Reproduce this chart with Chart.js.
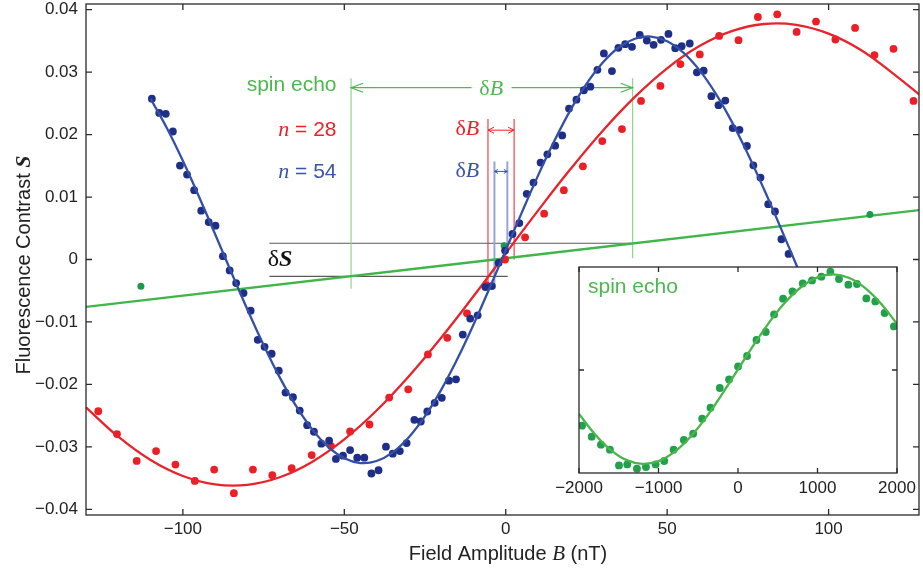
<!DOCTYPE html>
<html><head><meta charset="utf-8">
<script src="https://cdn.jsdelivr.net/npm/chart.js@4.4.1/dist/chart.umd.min.js"></script>
<style>
html,body{margin:0;padding:0;background:#fff;width:923px;height:571px;overflow:hidden}
#main{position:absolute;left:0;top:0}
#inset{position:absolute;left:540px;top:262px}
</style></head><body>
<canvas id="main" width="923" height="571"></canvas>
<canvas id="inset" width="380" height="240"></canvas>
<script>
// ---------- data ----------
const blueB = [-109.6,-107.3,-105.3,-103.1,-100.9,-98.7,-96.5,-94.3,-92.0,-89.9,-87.6,-85.5,
 -83.5,-81.2,-79.0,-76.8,-74.7,-72.5,-70.3,-68.2,-65.9,-63.8,-61.5,-59.4,
 -57.1,-54.7,-52.6,-50.4,-48.2,-46.0,-43.8,-41.6,-39.4,-37.1,-35.0,-32.8,
 -30.7,-28.3,-26.3,-24.3,-22.0,-19.8,-17.6,-15.4,-13.3,-11.0,-8.7,-6.3,
 -4.3,-2.2,-0.2,2.1,4.2,6.5,8.6,10.8,12.9,15.3,17.5,19.6,
 21.9,24.2,26.2,28.4,30.4,32.9,34.9,37.0,39.1,41.5,43.7,45.8,
 48.1,50.4,52.5,54.5,57.0,59.2,61.3,63.7,65.9,68.0,70.3,72.4,
 74.7,76.7,78.9,81.3,83.4,85.4,87.6];
const blueS = [0.02575,0.02347,0.02332,0.02049,0.01503,0.01359,0.01109,0.00781,0.00599,0.00542,0.00053,-0.00175,
 -0.00378,-0.00537,-0.00819,-0.01286,-0.01398,-0.01509,-0.01780,-0.02131,-0.02205,-0.02418,-0.02652,-0.02757,
 -0.02949,-0.02901,-0.03193,-0.03140,-0.03050,-0.03172,-0.03172,-0.03426,-0.03374,-0.02996,-0.03108,-0.03066,
 -0.02938,-0.02566,-0.02593,-0.02433,-0.02295,-0.02215,-0.01939,-0.01918,-0.01202,-0.00946,-0.00893,-0.00441,
 -0.00425,-0.00054,0.00143,0.00408,0.00583,0.01052,0.01232,0.01551,0.01683,0.01822,0.01986,0.02416,
 0.02559,0.02709,0.02766,0.03037,0.03299,0.03017,0.03388,0.03447,0.03404,0.03595,0.03506,0.03436,
 0.03516,0.03611,0.03383,0.03415,0.03458,0.02996,0.03022,0.02614,0.02470,0.02544,0.02104,0.02076,
 0.01817,0.01508,0.01312,0.00886,0.00770,0.00324,0.00089];

const redB = [-126.2,-120.4,-114.3,-108.3,-102.3,-96.3,-90.3,-84.2,-78.3,-72.3,-66.3,-60.1,
 -54.1,-48.2,-42.2,-36.1,-30.2,-24.1,-18.1,-12.0,-6.0,-0.2,
 6.0,11.9,18.0,23.9,29.9,36.0,41.9,47.9,54.1,60.1,66.1,72.1,78.1,84.1,90.1,96.1,102.1,108.2,114.2,120.1,126.3];
const redS = [-0.02429,-0.02795,-0.03225,-0.03066,-0.03283,-0.03544,-0.03363,-0.03740,-0.03363,-0.03453,-0.03342,-0.03130,
 -0.02986,-0.02752,-0.02641,-0.02210,-0.02078,-0.01520,-0.01254,-0.00861,-0.00410,0.0,
 0.00355,0.00733,0.01109,0.01492,0.01896,0.02088,0.02539,0.02778,0.03128,0.03283,0.03579,0.03511,0.03882,0.03925,0.03643,0.03809,0.03522,0.03707,0.03272,0.03372,0.02539];

const greenB = [-113.0,-0.5,112.8];
const greenS = [-0.0043,0.0022,0.0072];

// fitted curves
const redFitB = [-130,-120,-110,-100,-90,-80,-70,-60,-50,-40,-30,-20,-10,0,10,20,30,40,50,60,70,80,90,100,110,120,130];
const redFitS = [-0.02367,-0.02837,-0.03210,-0.03466,-0.03601,-0.03607,-0.03486,-0.03240,-0.02880,-0.02418,-0.01869,-0.01252,-0.00589,
 0.00097,0.00783,0.01444,0.02058,0.02603,0.03061,0.03416,0.03655,0.03770,0.03757,0.03616,0.03354,0.02976,0.02560];
const blueFitB = [-110,-105,-100,-95,-90,-85,-80,-75,-70,-65,-60,-55,-50,-45,-40,-35,-30,-25,-20,-15,-10,-5,
 0,5,10,15,20,25,30,35,40,45,50,55,60,65,70,75,80,85,90,95,100];
const blueFitS = [0.02574,0.02108,0.01579,0.01005,0.00405,-0.00204,-0.00801,-0.01368,-0.01887,-0.02340,-0.02715,-0.02998,
 -0.03181,-0.03258,-0.03226,-0.03087,-0.02845,-0.02508,-0.02086,-0.01593,-0.01044,-0.00457,
 0.00149,0.00755,0.01343,0.01892,0.02387,0.02810,0.03149,0.03393,0.03534,0.03568,0.03494,0.03313,0.03032,0.02660,0.02207,0.01689,0.01124,0.00526,-0.00083,-0.00683,-0.01258];
const greenFitB = [-130,0,128];
const greenFitS = [-0.0076,0.0002,0.0079];

const xTicks = [-100,-50,0,50,100];
const xTickLabels = ['\u2212100','\u221250','0','50','100'];
const yTicks = [-0.04,-0.03,-0.02,-0.01,0,0.01,0.02,0.03,0.04];
const yTickLabels = ['\u22120.04','\u22120.03','\u22120.02','\u22120.01','0','0.01','0.02','0.03','0.04'];

// inset (spin echo)
const insetB = [-1962,-1840,-1724,-1611,-1497,-1393,-1271,-1158,-1036,-928,-810,-681,-564,-451,-346,-229,-112,
 1,114,232,349,454,567,685,814,931,1049,1162,1270,1388,1496,1614,1727,1844,1961];
const insetS = [-0.02704,-0.03238,-0.03626,-0.03869,-0.04631,-0.04583,-0.04791,-0.04709,-0.04583,-0.04417,-0.03869,-0.03398,-0.03092,-0.02364,-0.01830,-0.00874,-0.00456,
 0.00175,0.00680,0.01456,0.01845,0.02699,0.03461,0.03816,0.04204,0.04350,0.04529,0.04772,0.04417,0.04141,0.04175,0.03476,0.03330,0.02767,0.02117];
const insetFitB = [-2000,-1800,-1600,-1400,-1200,-1000,-800,-600,-400,-200,0,200,400,600,800,1000,1200,1400,1600,1800,2000];
const insetFitS = [-0.02134,-0.03122,-0.03885,-0.04376,-0.04559,-0.04423,-0.03975,-0.03248,-0.02293,-0.01174,0.00028,
 0.01231,0.02351,0.03311,0.04042,0.04496,0.04640,0.04463,0.03978,0.03220,0.02235];
const insetXTicks = [-2000,-1000,0,1000,2000];
const insetXTickLabels = ['\u22122000','\u22121000','0','1000','2000'];
const insetYTicks = [0];

// annotation values (field / contrast units)
const deltaSUpper = 0.0026, deltaSLower = -0.0027;
const dBGreen = [-47.9, 39.3], dBRed = [-5.5, 2.6], dBBlue = [-3.5, 0.5];

// ---------- styles ----------
const SANS = "'Liberation Sans', Arial, sans-serif";
const SERIF = "'Liberation Serif', 'Times New Roman', serif";
const C = {
  red:'#ec1f27', redLine:'#e8232b', blue:'#1f2f88', blueLine:'#3450a5', blueText:'#3a55a6',
  green:'#4cb84e', greenLine:'#40b54a', greenPt:'#1d9a49', greenV:'#90d590', blueV:'#96a4d8',
  axis:'#2a2a2a', text:'#222'
};
const pts = (xs,ys)=>xs.map((x,i)=>({x:x,y:ys[i]}));

function seg(ctx,x1,y1,x2,y2,color,w){ctx.save();ctx.strokeStyle=color;ctx.lineWidth=w;ctx.beginPath();ctx.moveTo(x1,y1);ctx.lineTo(x2,y2);ctx.stroke();ctx.restore();}
function head(ctx,x,y,dir,len,half,color,w){ctx.save();ctx.strokeStyle=color;ctx.lineWidth=w;ctx.beginPath();ctx.moveTo(x-dir*len,y-half);ctx.lineTo(x,y);ctx.lineTo(x-dir*len,y+half);ctx.stroke();ctx.restore();}
function rich(ctx,parts,x,y,align){
  let w=0; parts.forEach(p=>{ctx.font=p.f;p.w=ctx.measureText(p.t).width;w+=p.w;});
  let cx = align==='right'? x-w : (align==='center'? x-w/2 : x);
  ctx.save();ctx.textBaseline='alphabetic';ctx.textAlign='left';
  parts.forEach(p=>{ctx.font=p.f;ctx.fillStyle=p.c;ctx.fillText(p.t,cx,y);cx+=p.w;});
  ctx.restore(); return w;
}

const annotations = {
  id:'annotations',
  beforeDatasetsDraw(chart){
    const ctx=chart.ctx, X=v=>chart.scales.x.getPixelForValue(v), Y=v=>chart.scales.y.getPixelForValue(v);
    // delta S horizontal lines
    seg(ctx,X(-73.2),Y(deltaSUpper),X(40.9),Y(deltaSUpper),'#5a5a5a',1.2);
    seg(ctx,X(-73.2),Y(deltaSLower),X(0.6),Y(deltaSLower),'#5a5a5a',1.2);
    // green spin echo delta B
    seg(ctx,X(dBGreen[0]),Y(0.0290),X(dBGreen[0]),Y(-0.0047),C.greenV,1.2);
    seg(ctx,X(dBGreen[1]),Y(0.0290),X(dBGreen[1]),Y(0.0002),C.greenV,1.2);
    const ga=Y(0.0275);
    seg(ctx,X(dBGreen[0]),ga,X(-10.6),ga,C.green,1.2);
    seg(ctx,X(1.8),ga,X(dBGreen[1]),ga,C.green,1.2);
    head(ctx,X(dBGreen[0]),ga,-1,12,4.5,C.green,1.2);
    head(ctx,X(dBGreen[1]),ga,1,12,4.5,C.green,1.2);
    rich(ctx,[{t:'\u03b4',f:'22px '+SERIF,c:C.green},{t:'B',f:'italic 22px '+SERIF,c:C.green}],X(-4.5),Y(0.0264),'center');
    // red n=28 delta B
    seg(ctx,X(dBRed[0]),Y(0.0225),X(dBRed[0]),Y(-0.0046),C.red,1);
    seg(ctx,X(dBRed[1]),Y(0.0225),X(dBRed[1]),Y(0.0),C.red,1);
    const ra=Y(0.0207);
    seg(ctx,X(dBRed[0]),ra,X(dBRed[1]),ra,C.red,1);
    head(ctx,X(dBRed[0]),ra,-1,6,3,C.red,1);
    head(ctx,X(dBRed[1]),ra,1,6,3,C.red,1);
    rich(ctx,[{t:'\u03b4',f:'22px '+SERIF,c:C.red},{t:'B',f:'italic 22px '+SERIF,c:C.red}],X(-8.2),Y(0.0200),'right');
    // blue n=54 delta B
    seg(ctx,X(dBBlue[0]),Y(0.0157),X(dBBlue[0]),Y(-0.0047),C.blueV,2);
    seg(ctx,X(dBBlue[1]),Y(0.0157),X(dBBlue[1]),Y(0.0018),C.blueV,2);
    const ba=Y(0.0141);
    seg(ctx,X(dBBlue[0]),ba,X(dBBlue[1]),ba,C.blueText,1);
    head(ctx,X(dBBlue[0]),ba,-1,3.5,2,C.blueText,1);
    head(ctx,X(dBBlue[1]),ba,1,3.5,2,C.blueText,1);
    rich(ctx,[{t:'\u03b4',f:'22px '+SERIF,c:C.blueText},{t:'B',f:'italic 22px '+SERIF,c:C.blueText}],X(-8.2),Y(0.0132),'right');
    // legend-like labels
    rich(ctx,[{t:'spin echo',f:'21px '+SANS,c:C.green}],X(-52.4),Y(0.0269),'right');
    rich(ctx,[{t:'n',f:'italic 22px '+SERIF,c:C.red},{t:' = 28',f:'21px '+SANS,c:C.red}],X(-52.4),Y(0.0197),'right');
    rich(ctx,[{t:'n',f:'italic 22px '+SERIF,c:C.blueText},{t:' = 54',f:'21px '+SANS,c:C.blueText}],X(-52.4),Y(0.0130),'right');
    rich(ctx,[{t:'\u03b4',f:'24px '+SERIF,c:'#111'},{t:'S',f:'bold italic 24px '+SERIF,c:'#111'}],X(-73.7),Y(-0.0011),'left');
  },
  afterDraw(chart){
    const ctx=chart.ctx, a=chart.chartArea, X=v=>chart.scales.x.getPixelForValue(v), Y=v=>chart.scales.y.getPixelForValue(v);
    ctx.save();ctx.strokeStyle=C.axis;ctx.lineWidth=1.3;
    ctx.strokeRect(a.left,a.top,a.right-a.left,a.bottom-a.top);
    ctx.beginPath();
    xTicks.forEach(v=>{const x=X(v);ctx.moveTo(x,a.bottom);ctx.lineTo(x,a.bottom-6);ctx.moveTo(x,a.top);ctx.lineTo(x,a.top+6);});
    yTicks.forEach(v=>{const y=Y(v);ctx.moveTo(a.left,y);ctx.lineTo(a.left+6,y);ctx.moveTo(a.right,y);ctx.lineTo(a.right-6,y);});
    ctx.stroke();ctx.restore();
    // axis titles
    rich(ctx,[{t:'Field Amplitude ',f:'20px '+SANS,c:C.text},{t:'B',f:'italic 21px '+SERIF,c:C.text},{t:' (nT)',f:'20px '+SANS,c:C.text}],508,560,'center');
    ctx.save();ctx.translate(30,265);ctx.rotate(-Math.PI/2);
    rich(ctx,[{t:'Fluorescence Contrast ',f:'20px '+SANS,c:C.text},{t:'S',f:'bold italic 22px '+SERIF,c:C.text}],0,0,'center');
    ctx.restore();
  }
};

const mainChart = new Chart(document.getElementById('main'),{
  type:'scatter',
  data:{datasets:[
    {type:'line',data:pts(blueFitB,blueFitS),borderColor:C.blueLine,borderWidth:2.3,pointRadius:0,tension:0.4,fill:false},
    {data:pts(blueB,blueS),backgroundColor:C.blue,borderWidth:0,pointRadius:3.9},
    {type:'line',data:pts(redFitB,redFitS),borderColor:C.redLine,borderWidth:2.3,pointRadius:0,tension:0.4,fill:false},
    {data:pts(redB,redS),backgroundColor:C.red,borderWidth:0,pointRadius:3.9},
    {data:pts(greenB,greenS),backgroundColor:C.greenPt,borderWidth:0,pointRadius:3.5},
    {type:'line',data:pts(greenFitB,greenFitS),borderColor:C.greenLine,borderWidth:2.3,pointRadius:0,tension:0,fill:false}
  ]},
  options:{
    responsive:false,animation:false,devicePixelRatio:1,
    layout:{padding:{left:0,top:2,right:1,bottom:0}},
    plugins:{legend:{display:false},tooltip:{enabled:false}},
    scales:{
      x:{type:'linear',min:-130,max:128,
        grid:{display:false,drawTicks:false},border:{display:false},
        afterBuildTicks:s=>{s.ticks=xTicks.map(v=>({value:v}));},
        ticks:{callback:(v,i)=>xTickLabels[i],font:{family:SANS,size:17},color:C.text,padding:4,maxRotation:0,autoSkip:false},
        afterFit:s=>{s.height=56;s.paddingLeft=0;s.paddingRight=0;}},
      y:{type:'linear',min:-0.0409,max:0.0409,
        grid:{display:false,drawTicks:false},border:{display:false},
        afterBuildTicks:s=>{s.ticks=yTicks.map(v=>({value:v}));},
        ticks:{callback:(v,i)=>yTickLabels[i],font:{family:SANS,size:17},color:C.text,padding:8,autoSkip:false},
        afterFit:s=>{s.width=86;s.paddingTop=0;s.paddingBottom=0;}}
    }
  },
  plugins:[annotations]
});

const insetDeco = {
  id:'insetDeco',
  beforeDatasetsDraw(chart){
    const ctx=chart.ctx,a=chart.chartArea;
    ctx.save();ctx.fillStyle='#fff';ctx.fillRect(a.left,a.top,a.right-a.left,a.bottom-a.top);ctx.restore();
    const X=v=>chart.scales.x.getPixelForValue(v), Y=v=>chart.scales.y.getPixelForValue(v);
    rich(ctx,[{t:'spin echo',f:'21px '+SANS,c:C.green}],X(-1887),Y(0.0374),'left');
  },
  afterDraw(chart){
    const ctx=chart.ctx,a=chart.chartArea,X=v=>chart.scales.x.getPixelForValue(v),Y=v=>chart.scales.y.getPixelForValue(v);
    ctx.save();ctx.strokeStyle=C.axis;ctx.lineWidth=1.3;
    ctx.strokeRect(a.left,a.top,a.right-a.left,a.bottom-a.top);
    ctx.beginPath();
    insetXTicks.forEach(v=>{const x=X(v);ctx.moveTo(x,a.bottom);ctx.lineTo(x,a.bottom-5);ctx.moveTo(x,a.top);ctx.lineTo(x,a.top+5);});
    insetYTicks.forEach(v=>{const y=Y(v);ctx.moveTo(a.left,y);ctx.lineTo(a.left+5,y);ctx.moveTo(a.right,y);ctx.lineTo(a.right-5,y);});
    ctx.stroke();ctx.restore();
  }
};

const insetChart = new Chart(document.getElementById('inset'),{
  type:'scatter',
  data:{datasets:[
    {type:'line',data:pts(insetFitB,insetFitS),borderColor:'#48b64a',borderWidth:2.3,pointRadius:0,tension:0.4,fill:false},
    {data:pts(insetB,insetS),backgroundColor:'#22a04b',borderWidth:0,pointRadius:3.9}
  ]},
  options:{
    responsive:false,animation:false,devicePixelRatio:1,
    layout:{padding:{left:0,top:5,right:23,bottom:0}},
    plugins:{legend:{display:false},tooltip:{enabled:false}},
    scales:{
      x:{type:'linear',min:-2000,max:2000,
        grid:{display:false,drawTicks:false},border:{display:false},
        afterBuildTicks:s=>{s.ticks=insetXTicks.map(v=>({value:v}));},
        ticks:{callback:(v,i)=>insetXTickLabels[i],font:{family:SANS,size:17},color:C.text,padding:5,maxRotation:0,autoSkip:false},
        afterFit:s=>{s.height=29;s.paddingLeft=0;s.paddingRight=0;}},
      y:{type:'linear',min:-0.05,max:0.05,
        grid:{display:false,drawTicks:false},border:{display:false},
        afterBuildTicks:s=>{s.ticks=insetYTicks.map(v=>({value:v}));},
        ticks:{display:false},
        afterFit:s=>{s.width=39;s.paddingTop=0;s.paddingBottom=0;}}
    }
  },
  plugins:[insetDeco]
});
</script>
</body></html>
